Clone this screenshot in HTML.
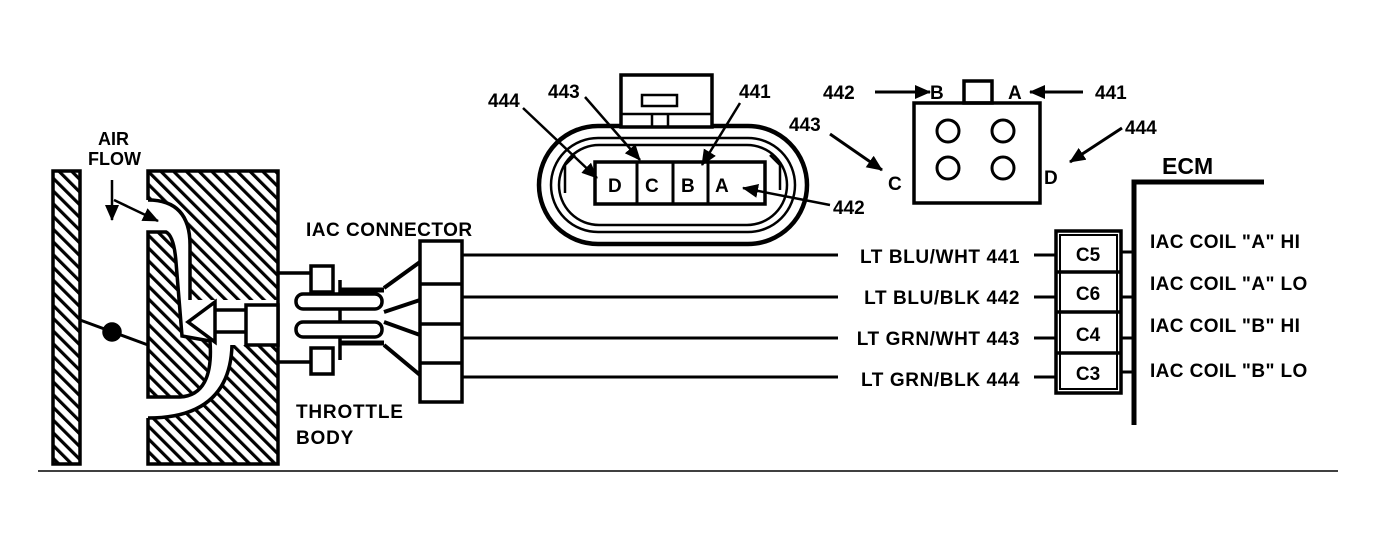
<!DOCTYPE html>
<html><head><meta charset="utf-8"><style>
html,body{margin:0;padding:0;background:#fff;}
svg{display:block;}
text{font-family:"Liberation Sans",sans-serif;font-weight:bold;fill:#000;}
</style></head><body>
<svg width="1375" height="549" viewBox="0 0 1375 549" xmlns="http://www.w3.org/2000/svg">
<defs>
<pattern id="h" patternUnits="userSpaceOnUse" width="9" height="9" patternTransform="rotate(-45)">
<rect width="9" height="9" fill="#fff"/><rect x="0" y="0" width="3.2" height="9" fill="#000"/>
</pattern>
<marker id="ar2" markerWidth="16" markerHeight="14" refX="15" refY="7" orient="auto" markerUnits="userSpaceOnUse">
<path d="M0,0 L16,7 L0,14 Z" fill="#000"/></marker>
</defs>
<g stroke="#000" stroke-width="3.5" fill="none">
<rect x="53" y="171" width="27" height="293" fill="url(#h)"/>
<rect x="148" y="171" width="130" height="293" fill="url(#h)"/>
<path d="M146,200 Q190,200 190,245 L190,300 L280,300 L280,345 L232,345 Q230,418 146,418 Z" fill="#fff" stroke="none"/>
<path d="M148,200 Q190,200 190,245 L190,300 M278,300 L278,345 M232,345 Q230,418 148,418"/>
<path d="M148,232 L166,232 Q174,236 176,262 L182,336 L210,341 Q214,395 180,397 L148,397 Z" fill="url(#h)"/>
<line x1="80" y1="320" x2="148" y2="345" stroke-width="3"/>
<circle cx="112" cy="332" r="8" fill="#000"/>
<path d="M188,322 L215,302 L215,342 Z" fill="#fff"/>
<line x1="215" y1="310" x2="246" y2="310"/><line x1="215" y1="332" x2="246" y2="332"/>
<rect x="246" y="305" width="32" height="40" fill="#fff"/>
<line x1="278" y1="273" x2="310" y2="273"/><line x1="278" y1="362" x2="310" y2="362"/>
<rect x="311" y="266" width="22" height="26" fill="#fff"/>
<rect x="311" y="348" width="22" height="26" fill="#fff"/>
<line x1="340" y1="280" x2="340" y2="360"/>
<rect x="296" y="294" width="86" height="15" rx="7" fill="#fff"/>
<rect x="296" y="322" width="86" height="15" rx="7" fill="#fff"/>
<line x1="340" y1="290" x2="384" y2="290" stroke-width="5"/>
<line x1="340" y1="343" x2="384" y2="343" stroke-width="5"/>
<path d="M384,288 L420,262 M384,312 L420,300 M384,322 L420,335 M384,345 L420,375" stroke-width="4"/>
<rect x="420" y="241" width="42" height="161" fill="#fff"/>
<line x1="420" y1="284" x2="462" y2="284"/><line x1="420" y1="324" x2="462" y2="324"/><line x1="420" y1="363" x2="462" y2="363"/>
<line x1="462" y1="255" x2="838" y2="255" stroke-width="3"/>
<line x1="462" y1="297" x2="838" y2="297" stroke-width="3"/>
<line x1="462" y1="338" x2="838" y2="338" stroke-width="3"/>
<line x1="462" y1="377" x2="838" y2="377" stroke-width="3"/>
<line x1="1034" y1="255" x2="1057" y2="255" stroke-width="3"/>
<line x1="1034" y1="297" x2="1057" y2="297" stroke-width="3"/>
<line x1="1034" y1="338" x2="1057" y2="338" stroke-width="3"/>
<line x1="1034" y1="377" x2="1057" y2="377" stroke-width="3"/>
<rect x="1056" y="231" width="65" height="162"/>
<rect x="1060" y="235" width="57" height="154" stroke-width="2"/>
<line x1="1056" y1="272" x2="1121" y2="272"/><line x1="1056" y1="312" x2="1121" y2="312"/><line x1="1056" y1="353" x2="1121" y2="353"/>
<path d="M1121,252 L1133,252 M1121,297 L1133,297 M1121,338 L1133,338 M1121,372 L1133,372" stroke-width="3"/>
<path d="M1134,425 L1134,182 L1264,182" stroke-width="5"/>
<rect x="539" y="126" width="268" height="118" rx="59" stroke-width="4.5"/>
<rect x="551" y="138" width="244" height="94" rx="47" stroke-width="2.5"/>
<rect x="559" y="145" width="228" height="80" rx="40" stroke-width="2.5"/>
<path d="M565,193 L565,165 L575,155 M780,190 L780,165 L770,155" stroke-width="2.5"/>
<rect x="621" y="75" width="91" height="52" fill="#fff"/>
<rect x="642" y="95" width="35" height="11" stroke-width="2.5"/>
<path d="M621,114 L712,114 M652,114 L652,128 M668,114 L668,128" stroke-width="2.5"/>
<rect x="595" y="162" width="170" height="42" fill="#fff"/>
<path d="M637,162 V204 M673,162 V204 M708,162 V204" stroke-width="3"/>
<path d="M523,108 L597,178" stroke-width="2.5" marker-end="url(#ar2)"/>
<path d="M585,97 L640,160" stroke-width="2.5" marker-end="url(#ar2)"/>
<path d="M740,103 L702,165" stroke-width="2.5" marker-end="url(#ar2)"/>
<path d="M830,205 L743,188" stroke-width="2.5" marker-end="url(#ar2)"/>
<rect x="914" y="103" width="126" height="100"/>
<rect x="964" y="81" width="28" height="22"/>
<circle cx="948" cy="131" r="11" stroke-width="3"/><circle cx="1003" cy="131" r="11" stroke-width="3"/>
<circle cx="948" cy="168" r="11" stroke-width="3"/><circle cx="1003" cy="168" r="11" stroke-width="3"/>
<path d="M875,92 L930,92" stroke-width="3" marker-end="url(#ar2)"/>
<path d="M1083,92 L1030,92" stroke-width="3" marker-end="url(#ar2)"/>
<path d="M830,134 L882,170" stroke-width="3" marker-end="url(#ar2)"/>
<path d="M1122,128 L1070,162" stroke-width="3" marker-end="url(#ar2)"/>
<path d="M112,180 L112,220" stroke-width="2.5" marker-end="url(#ar2)"/>
<path d="M114,200 L158,221" stroke-width="2.5" marker-end="url(#ar2)"/>
</g>
<line x1="38" y1="471" x2="1338" y2="471" stroke="#000" stroke-width="1.5"/>
<g font-size="19">
<text x="98" y="145" font-size="18">AIR</text><text x="88" y="165" font-size="18">FLOW</text>
<text x="306" y="236" letter-spacing="0.5">IAC CONNECTOR</text>
<text x="296" y="418" letter-spacing="0.8">THROTTLE</text><text x="296" y="444" letter-spacing="0.8">BODY</text>
<text x="488" y="107">444</text><text x="548" y="98">443</text><text x="739" y="98">441</text>
<text x="833" y="214">442</text>
<text x="823" y="99">442</text><text x="1095" y="99">441</text>
<text x="789" y="131">443</text><text x="1125" y="134">444</text>
<text x="930" y="99">B</text><text x="1008" y="99">A</text>
<text x="888" y="190">C</text><text x="1044" y="184">D</text>
<text x="1162" y="174" font-size="23">ECM</text>
<text x="608" y="192">D</text><text x="645" y="192">C</text><text x="681" y="192">B</text><text x="715" y="192">A</text>
<g text-anchor="end" letter-spacing="0.6">
<text x="1020" y="263">LT BLU/WHT  441</text>
<text x="1020" y="304">LT BLU/BLK  442</text>
<text x="1020" y="345">LT GRN/WHT 443</text>
<text x="1020" y="386">LT GRN/BLK 444</text>
</g>
<g text-anchor="middle">
<text x="1088" y="261">C5</text><text x="1088" y="300">C6</text><text x="1088" y="341">C4</text><text x="1088" y="380">C3</text>
</g>
<g letter-spacing="0.4">
<text x="1150" y="248">IAC COIL "A" HI</text>
<text x="1150" y="290">IAC COIL "A" LO</text>
<text x="1150" y="332">IAC COIL "B" HI</text>
<text x="1150" y="377">IAC COIL "B" LO</text>
</g>
</g>
</svg>
</body></html>
